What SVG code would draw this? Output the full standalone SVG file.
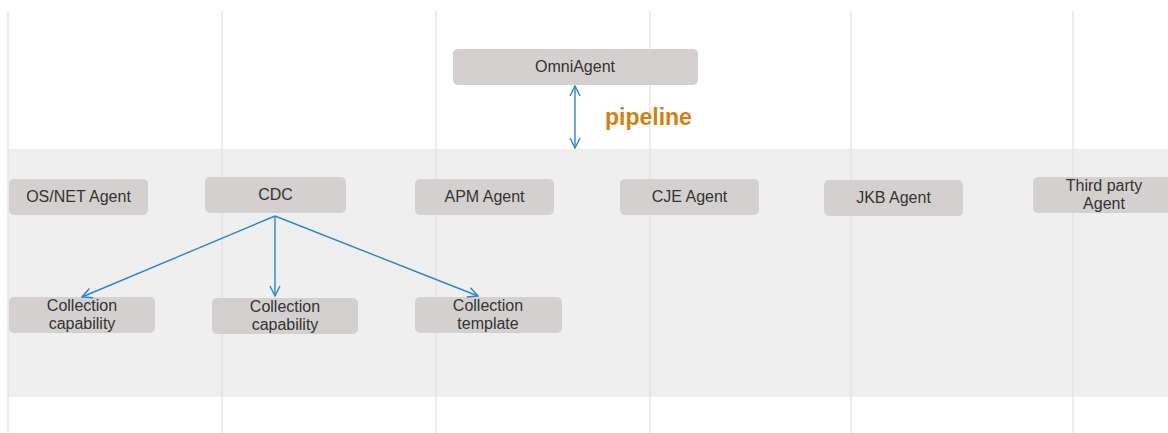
<svg xmlns="http://www.w3.org/2000/svg" width="1168" height="433" viewBox="0 0 1168 433">
  <style>
    .lane { stroke: #e3dfdf; stroke-width: 1.2; }
    .node rect { fill: #d5d0d0; }
    .node text { font-family: "Liberation Sans", Arial, sans-serif; font-size: 16px; fill: #333333; text-anchor: middle; }
    .conn { stroke: #2a86c6; stroke-width: 1.4; fill: none; }
    .label { font-family: "Liberation Sans", Arial, sans-serif; font-size: 23px; font-weight: bold; fill: #d2800f; }
  </style>
  <defs>
    <marker id="arrow" viewBox="0 0 12 12" refX="11" refY="6" markerWidth="12" markerHeight="12" markerUnits="userSpaceOnUse" orient="auto-start-reverse">
      <path d="M1 1 L11 6 L1 11" fill="none" stroke="#2a86c6" stroke-width="1.4"/>
    </marker>
  </defs>

  <rect width="1168" height="433" fill="#ffffff"/>

  <!-- band holding the agent layer -->
  <rect x="8" y="149" width="1160" height="248" fill="#efefef"/>

  <!-- column guides -->
  <g id="lanes">
    <line class="lane" x1="8" y1="11" x2="8" y2="433"/>
    <line class="lane" x1="222" y1="11" x2="222" y2="433"/>
    <line class="lane" x1="436" y1="11" x2="436" y2="433"/>
    <line class="lane" x1="650" y1="11" x2="650" y2="433"/>
    <line class="lane" x1="851" y1="11" x2="851" y2="433"/>
    <line class="lane" x1="1073" y1="11" x2="1073" y2="433"/>
  </g>

  <g id="omniagent" class="node">
    <rect x="453" y="49" width="245" height="36" rx="5"/>
    <text x="575" y="72">OmniAgent</text>
  </g>

  <g id="os-net-agent" class="node">
    <rect x="9" y="179" width="139" height="36" rx="5"/>
    <text x="78.5" y="202">OS/NET Agent</text>
  </g>

  <g id="cdc" class="node">
    <rect x="205" y="177" width="141" height="36" rx="5"/>
    <text x="275.5" y="200">CDC</text>
  </g>

  <g id="apm-agent" class="node">
    <rect x="415" y="179" width="139" height="36" rx="5"/>
    <text x="484.5" y="202">APM Agent</text>
  </g>

  <g id="cje-agent" class="node">
    <rect x="620" y="179" width="139" height="36" rx="5"/>
    <text x="689.5" y="202">CJE Agent</text>
  </g>

  <g id="jkb-agent" class="node">
    <rect x="824" y="180" width="139" height="36" rx="5"/>
    <text x="893.5" y="203">JKB Agent</text>
  </g>

  <g id="third-party-agent" class="node">
    <rect x="1033" y="177" width="145" height="36" rx="5"/>
    <text x="1104" y="191">Third party</text>
    <text x="1104" y="209">Agent</text>
  </g>

  <g id="collection-capability-1" class="node">
    <rect x="9" y="297" width="146" height="36" rx="5"/>
    <text x="82" y="311">Collection</text>
    <text x="82" y="329">capability</text>
  </g>

  <g id="collection-capability-2" class="node">
    <rect x="212" y="298" width="146" height="36" rx="5"/>
    <text x="285" y="312">Collection</text>
    <text x="285" y="330">capability</text>
  </g>

  <g id="collection-template" class="node">
    <rect x="415" y="297" width="147" height="36" rx="5"/>
    <text x="488" y="311">Collection</text>
    <text x="488" y="329">template</text>
  </g>

  <g id="connectors">
    <line class="conn" x1="575" y1="86" x2="575" y2="148" marker-start="url(#arrow)" marker-end="url(#arrow)"/>
    <line class="conn" x1="275" y1="216" x2="82" y2="297" marker-end="url(#arrow)"/>
    <line class="conn" x1="275" y1="216" x2="275" y2="296" marker-end="url(#arrow)"/>
    <line class="conn" x1="275" y1="216" x2="478" y2="296" marker-end="url(#arrow)"/>
  </g>

  <text class="label" x="605" y="125">pipeline</text>
</svg>
